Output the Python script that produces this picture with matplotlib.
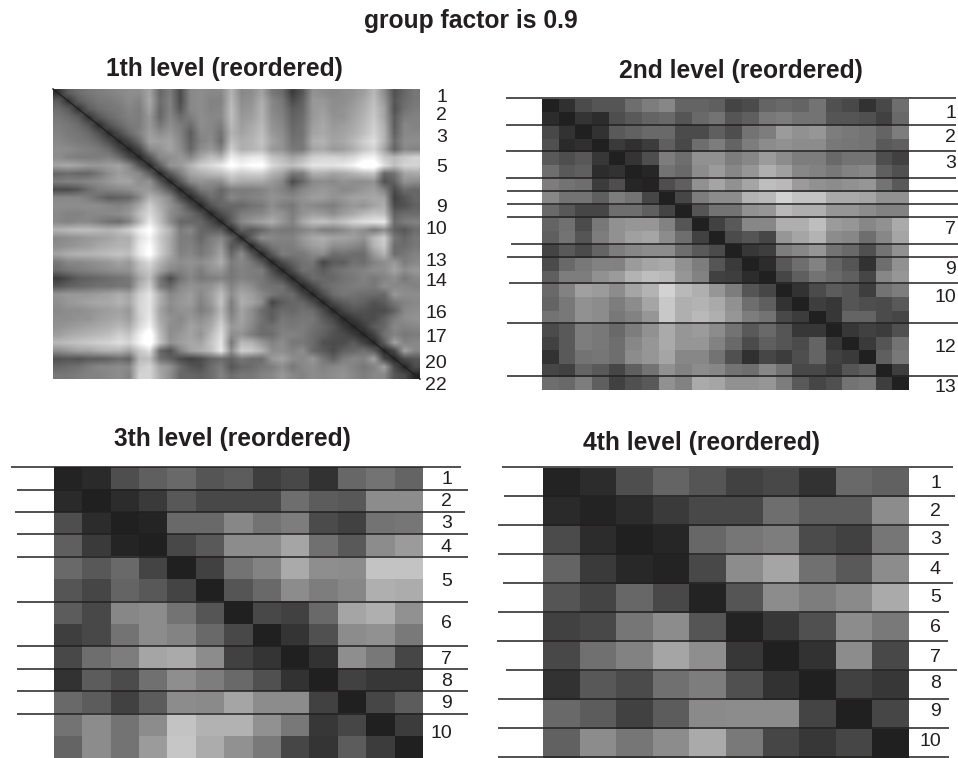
import matplotlib
matplotlib.use('Agg')

import numpy as np
import matplotlib.pyplot as plt

plt.rcParams['font.family'] = ['Liberation Sans', 'DejaVu Sans']

# level 1: coarse reading of the smooth distance map, upper triangle only
level1_upper = [
    [45,85,100,110,115,120,125,130,130,150,95,115,70,125,130,125,125,165, 125,130,150,110,100,55,80,135,130,125,130,135,145,170,130,75,95,110],
    [45,85,100,110,112,118,128,120,155,100,120,70,125,130,120,120,170, 130,135,160,125,110,70,90,140,140,130,130,140,155,175,140,80,100,110],
    [45,85,100,108,112,122,115,150,95,120,80,125,130,120,125,175, 135,140,165,125,115,85,95,140,145,130,135,145,160,180,150,75,105,115],
    [45,80,98,108,118,115,140,95,125,100,115,130,125,125,175, 140,145,165,130,120,90,100,140,150,135,135,150,165,185,150,85,115,120],
    [40,75,95,112,115,140,110,130,115,100,130,125,115,170, 145,155,170,135,125,95,105,145,155,140,145,155,170,190,160,85,125,120],
    [40,70,98,120,145,130,140,120,85,125,125,105,165, 150,160,175,140,130,100,105,150,155,145,150,160,175,195,165,90,125,125],
    [40,65,100,150,145,150,125,90,120,130,100,175, 160,165,180,150,135,105,110,160,165,150,155,170,190,205,165,100,130,130],
    [35,65,125,135,150,130,95,130,140,120,190, 160,165,175,140,135,110,110,150,155,140,145,160,180,195,150,90,125,120],
    [35,75,125,130,140,125,155,175,165,220, 205,215,215,180,170,150,165,190,195,195,190,200,220,225,185,170,185,195],
    [38,85,135,140,165,190,200,215,240, 225,235,240,200,185,175,190,210,210,210,215,225,250,250,205,175,195,195],
    [35,80,115,150,160,170,175,195, 185,190,190,165,150,110,115,160,160,150,155,165,175,180,95,105,150,155],
    [35,80,125,135,130,130,165, 155,155,155,140,125,70,95,125,130,125,135,130,130,135,75,90,135,130],
    [35,70,110,115,95,115, 115,115,120,130,120,105,125,135,140,135,125,130,140,145,120,70,100,95],
    [35,70,100,95,125, 115,120,125,135,130,125,135,145,145,135,140,150,150,155,150,60,80,95],
    [35,75,95,95, 95,105,110,130,115,110,130,125,120,115,130,140,135,150,160,70,75,90],
    [35,70,90, 115,120,125,140,135,115,135,145,140,130,145,155,170,180,175,90,100,100],
    [35,85, 125,140,150,160,140,120,155,175,180,170,180,195,205,210,215,100,115,120],
    [35, 90,80,95,115,110,110,120,130,115,115,125,140,130,110,130,90,80,100],
    [35,90,130,125,120,120,140,155,160,150,150,145,135,170,190,110,95,110],
    [35,80,110,115,115,130,145,150,130,130,125,115,165,185,100,100,110],
    [35,80,115,110,110,125,130,100,105,100,100,140,165,100,110,120],
    [35,70,90,105,110,65,85,85,105,100,120,130,140,115,125],
    [35,70,105,100,85,100,110,115,120,130,130,150,130,140],
    [35,70,100,95,95,105,110,120,110,120,130,110,125],
    [35,65,95,105,110,115,115,110,130,125,125,120],
    [35,70,100,110,105,100,100,95,140,130,130],
    [35,70,85,95,90,75,85,110,120,125],
    [35,65,80,75,70,70,90,125,130],
    [35,55,70,70,90,115,130,135],
    [35,55,85,95,125,120,125],
    [35,60,105,120,110,115],
    [35,85,150,120,125],
    [35,65,150,125],
    [35,70,80],
    [35,70],
    [35],
]

level2 = [
    [33,48,75,85,85,110,125,135,100,100,95,68,75,100,105,100,115,80,72,50,72,110],
    [45,33,52,45,78,90,100,105,85,105,115,85,95,120,125,115,115,85,85,80,65,105],
    [72,50,33,50,90,98,105,105,75,75,95,78,115,125,155,145,150,125,120,115,100,125],
    [80,42,48,33,58,48,60,95,72,110,125,100,125,140,145,140,140,120,118,115,90,95],
    [90,78,88,55,33,52,78,125,110,145,145,125,135,155,140,125,125,105,115,115,78,65],
    [110,90,95,45,50,33,38,115,105,140,155,135,150,175,160,135,130,120,130,135,95,80],
    [125,115,110,60,78,38,35,78,95,145,165,145,165,190,185,155,145,140,145,150,115,90],
    [135,115,115,95,125,115,70,33,70,125,140,140,180,185,210,195,195,170,170,165,145,145],
    [105,88,70,70,110,110,95,68,33,85,115,115,145,150,185,175,175,150,150,140,130,130],
    [100,112,75,120,145,150,150,130,85,33,65,90,135,135,175,175,190,155,150,135,145,170],
    [95,115,85,125,145,160,165,140,110,65,33,75,85,70,150,165,180,140,135,110,135,165],
    [68,90,75,100,125,135,140,140,110,90,75,33,55,62,125,135,150,115,105,80,115,145],
    [75,105,120,130,130,155,165,170,145,125,85,58,33,45,88,110,130,100,85,50,110,145],
    [95,125,125,145,155,180,190,185,150,130,65,62,45,33,70,95,115,105,95,70,135,150],
    [105,130,160,155,140,165,180,210,185,175,150,125,85,70,33,50,75,92,85,62,115,125],
    [100,120,145,140,125,140,165,200,175,180,170,145,110,95,50,33,62,55,85,78,75,90],
    [115,120,145,140,120,130,150,200,175,185,175,150,125,115,72,60,33,55,100,100,75,70],
    [75,90,125,120,105,125,145,170,150,155,140,115,90,105,85,55,55,33,55,65,60,80],
    [65,90,125,120,110,135,150,170,150,150,130,105,75,95,85,75,100,55,33,58,85,115],
    [50,90,115,118,110,140,150,165,135,135,115,80,48,70,60,78,100,65,58,33,95,120],
    [70,65,100,90,70,95,115,145,130,140,135,115,110,135,115,72,72,60,85,95,33,62],
    [110,105,125,95,65,80,90,145,130,170,165,145,145,150,125,90,70,80,115,120,62,33],
]

level3 = [
    [35,42,78,95,105,85,92,62,72,50,103,115,100],
    [42,33,45,58,88,72,72,72,110,92,88,140,140],
    [78,45,33,36,105,105,135,115,125,75,65,115,118],
    [95,58,36,33,72,90,140,140,165,112,90,140,155],
    [105,88,105,68,33,65,115,132,170,142,140,195,195],
    [85,70,100,88,68,33,85,105,140,125,135,175,172],
    [92,72,135,140,115,85,33,72,65,105,165,175,145],
    [62,72,115,140,132,105,72,33,52,80,140,145,122],
    [72,110,125,165,170,140,65,52,33,50,142,120,70],
    [50,92,75,112,142,125,105,80,50,33,65,55,55],
    [105,92,65,92,140,138,165,140,140,65,33,70,92],
    [115,140,115,140,195,178,178,145,120,55,70,33,60],
    [100,140,115,155,198,172,145,122,70,52,92,60,33],
]

level4 = [
    [35,45,78,100,85,65,72,50,105,98],
    [42,35,45,58,72,72,110,92,92,140],
    [75,45,33,38,103,118,125,75,65,118],
    [100,58,40,35,72,140,165,112,90,140],
    [85,68,103,72,35,85,140,125,138,170],
    [65,72,118,140,85,35,55,80,140,122],
    [72,112,130,165,142,55,33,50,140,72],
    [50,88,75,112,125,80,50,33,65,55],
    [105,92,65,92,138,140,140,68,33,70],
    [98,140,118,140,170,122,70,55,70,33],
]

# cluster numbers shown beside each map
level1_labels = ['1','2','3','5','9','10','13','14','16','17','20','22']
level2_labels = ['1','2','3','7','9','10','12','13']
level3_labels = ['1','2','3','4','5','6','7','8','9','10']
level4_labels = ['1','2','3','4','5','6','7','8','9','10']

# row index where a new cluster starts
level2_bounds = [0,2,4,6,7,8,9,11,12,14,17,21]
level3_bounds = [0,1,2,3,4,6,8,9,10,11]
level4_bounds = [0,1,2,3,4,5,6,7,8,9,10]

n = len(level1_upper)
m1 = np.zeros((n,n))
for i, row in enumerate(level1_upper):
    m1[i,i:] = row
    m1[i:,i] = row

fig = plt.figure(figsize=(9.58,7.58), dpi=100)
ax = fig.add_axes([0,0,1,1])

ax.imshow(m1, cmap='gray', vmin=0, vmax=235, extent=(53,420,379,89), aspect='auto', interpolation='bilinear')
ax.plot([53,420],[89,379], color='#231f20', lw=1.2, alpha=0.85)
ax.imshow(level2, cmap='gray', vmin=0, vmax=255, extent=(542,909,390,99), aspect='auto', interpolation='nearest')
ax.imshow(level3, cmap='gray', vmin=0, vmax=255, extent=(54,423,758,467), aspect='auto', interpolation='nearest')
ax.imshow(level4, cmap='gray', vmin=0, vmax=255, extent=(543,909,758,468), aspect='auto', interpolation='nearest')

# separators, left and right ends differ line by line in the original
def seps(bounds, nrows, top, bottom, lefts, rights, shift):
    h = (bottom-top)/nrows
    for b, l, r in zip(bounds, lefts, rights):
        ax.plot([l,r],[top+b*h+shift]*2, color='#231f20', lw=1.1, solid_capstyle='butt')

seps(level2_bounds, 22, 99, 390,
     [506,506,506,506,507,507,507,511,507,509,507,507],
     [956,956,956,956,958,958,958,958,958,958,958,958], -0.7)
seps(level3_bounds, 13, 467, 758,
     [11,17,15,17,17,17,17,17,17,17],
     [461,468,465,468,468,468,468,468,468,468], 0.3)
seps(level4_bounds, 10, 468, 758,
     [502,504,498,498,503,498,497,506,498,498,498],
     [953,955,949,949,953,949,948,957,949,949,949], -0.7)

# label heights
lab_size = 14
for s, y in zip(level1_labels, [97,116,137,167,207,230,261,282,313,338,364,386]):
    ax.text(447, y, s, ha='right', va='center', fontsize=lab_size, color='#231f20')
for s, y in zip(level2_labels, [113,137,163,229,270,298,347,387]):
    ax.text(956, y, s, ha='right', va='center', fontsize=lab_size, color='#231f20')
for s, y in zip(level3_labels, [479,501,523,548,581,624,659,682,704,734]):
    ax.text(452, y, s, ha='right', va='center', fontsize=lab_size, color='#231f20')
for s, y in zip(level4_labels, [484,511,540,569,598,627,657,683,712,742]):
    ax.text(941, y, s, ha='right', va='center', fontsize=lab_size, color='#231f20')

tit = dict(ha='center', va='baseline', fontsize=17.7, fontweight='bold', color='#231f20')
ax.text(471, 28, 'group factor is 0.9', **tit)
ax.text(224, 76, '1th level (reordered)', **tit)
ax.text(741, 78, '2nd level (reordered)', **tit)
ax.text(232.5, 446, '3th level (reordered)', **tit)
ax.text(702, 450, '4th level (reordered)', **tit)

ax.set_xlim(0,958)
ax.set_ylim(758,0)
ax.axis('off')

plt.savefig('out.png', dpi=100)
